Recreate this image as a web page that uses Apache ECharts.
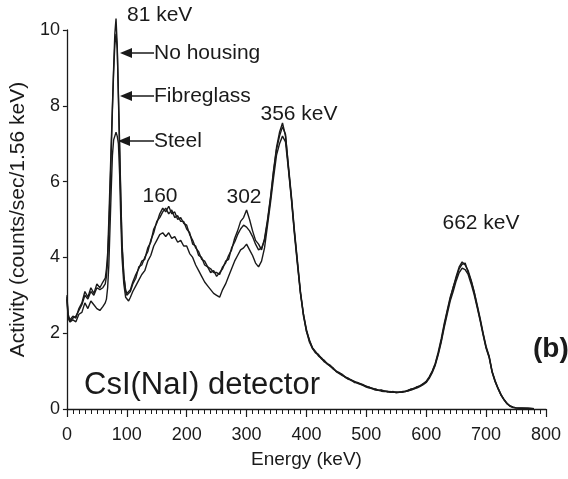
<!DOCTYPE html>
<html><head><meta charset="utf-8">
<script src="https://cdn.jsdelivr.net/npm/echarts@6/dist/echarts.min.js"></script>
<style>html,body{margin:0;padding:0;background:#fff}#c{width:568px;height:479px}</style>
</head><body><div id="c"></div>
<script>
// Energy channels (keV)
const energies = [
  0,2,5,10,15,20,25,30,35,40,45,50,55,60,
  62,64,66,68,70,72,74,76,78,80,82,84,86,88,90,92,
  95,98,100,103,106,
  110,115,120,125,130,135,140,145,150,155,160,165,170,175,180,185,190,195,200,205,
  210,215,220,225,230,235,240,245,250,255,260,265,270,275,280,285,290,295,300,305,
  310,315,320,325,330,335,340,345,350,355,360,365,370,375,380,385,390,395,400,
  405,410,415,420,425,430,435,440,445,450,455,460,465,470,475,480,485,490,495,500,
  505,510,515,520,525,530,535,540,545,550,555,560,565,570,575,580,585,590,595,600,
  605,610,615,620,625,630,635,640,645,650,655,660,665,670,675,680,685,690,695,700,
  705,710,715,720,725,730,735,740,745,750,
  760,770,780
];
const noHousing = [
  3.0,2.5,2.35,2.45,2.4,2.65,2.8,3.1,2.95,3.2,3.05,3.3,3.2,3.35,
  3.35,3.45,3.7,4.1,5.0,6.0,7.0,8.0,9.0,9.9,10.3,9.6,8.2,6.8,5.5,4.3,
  3.5,3.15,3.05,3.0,3.15,
  3.35,3.55,3.7,3.9,3.95,4.25,4.4,4.75,4.9,5.15,5.3,5.2,5.35,5.15,5.2,5.0,5.05,4.9,4.85,4.6,
  4.45,4.25,4.15,3.95,3.9,3.75,3.7,3.6,3.6,3.55,3.75,3.85,4.05,4.2,4.5,4.7,4.95,5.05,5.25,5.0,
  4.7,4.45,4.35,4.2,4.5,5.0,5.6,6.3,6.9,7.3,7.55,7.2,6.4,5.6,4.7,3.9,3.1,2.5,2.1,
  1.8,1.62,1.52,1.42,1.35,1.26,1.2,1.15,1.06,1.0,0.96,0.9,0.85,0.8,0.77,0.72,0.7,0.67,0.63,0.6,
  0.57,0.55,0.52,0.5,0.49,0.47,0.47,0.45,0.46,0.44,0.45,0.45,0.47,0.5,0.52,0.55,0.58,0.62,0.66,0.73,
  0.85,1.0,1.2,1.5,1.85,2.25,2.6,2.95,3.2,3.5,3.75,3.88,3.8,3.65,3.4,3.1,2.75,2.4,2.0,1.65,
  1.4,1.0,0.75,0.55,0.38,0.25,0.15,0.08,0.05,0.03,
  0.02,0.02,0.01
];
const fibreglass = [
  2.95,2.45,2.3,2.4,2.45,2.6,2.75,3.0,2.9,3.1,3.0,3.2,3.15,3.2,
  3.2,3.3,3.5,3.9,4.7,5.7,6.8,7.9,8.9,9.6,9.9,9.5,8.3,7.0,5.6,4.4,
  3.55,3.1,3.0,2.95,3.1,
  3.3,3.45,3.75,3.8,4.0,4.15,4.45,4.65,4.95,5.05,5.2,5.3,5.15,5.25,5.05,5.1,4.95,4.95,4.75,4.65,
  4.35,4.3,4.05,4.0,3.8,3.75,3.6,3.65,3.5,3.6,3.7,3.9,3.95,4.25,4.4,4.6,4.75,4.85,4.8,4.7,
  4.55,4.35,4.2,4.25,4.45,4.95,5.55,6.25,6.85,7.2,7.45,7.25,6.35,5.55,4.65,3.85,3.05,2.5,2.05,
  1.82,1.6,1.48,1.44,1.32,1.28,1.18,1.13,1.08,0.98,0.94,0.91,0.83,0.81,0.75,0.73,0.68,0.66,0.64,0.59,
  0.58,0.53,0.53,0.49,0.5,0.48,0.45,0.46,0.44,0.45,0.44,0.46,0.46,0.48,0.53,0.54,0.59,0.61,0.67,0.72,
  0.83,0.98,1.18,1.46,1.8,2.2,2.57,2.9,3.22,3.45,3.7,3.82,3.85,3.6,3.38,3.08,2.72,2.36,1.98,1.62,
  1.38,0.98,0.73,0.54,0.37,0.24,0.14,0.08,0.05,0.03,
  0.02,0.01,0.01
];
const steel = [
  2.9,2.4,2.3,2.35,2.3,2.5,2.55,2.8,2.65,2.85,2.75,2.65,2.6,2.7,
  2.75,2.8,2.9,3.2,3.8,4.8,5.8,6.7,7.1,7.2,7.3,7.2,7.0,6.2,5.0,4.0,
  3.3,2.95,2.9,2.85,2.95,
  3.1,3.25,3.4,3.55,3.65,3.9,4.05,4.3,4.45,4.6,4.65,4.55,4.65,4.5,4.55,4.4,4.45,4.3,4.3,4.1,
  4.0,3.8,3.65,3.5,3.35,3.25,3.15,3.05,3.0,2.95,3.15,3.3,3.5,3.7,3.9,4.05,4.2,4.25,4.35,4.2,
  4.05,3.85,3.75,3.9,4.25,4.85,5.45,6.1,6.7,7.0,7.2,7.05,6.3,5.5,4.6,3.8,3.05,2.45,2.05,
  1.76,1.6,1.5,1.4,1.33,1.24,1.19,1.12,1.05,0.99,0.93,0.88,0.84,0.78,0.76,0.7,0.69,0.65,0.62,0.58,
  0.55,0.54,0.5,0.49,0.47,0.46,0.46,0.44,0.45,0.43,0.44,0.44,0.46,0.48,0.5,0.53,0.56,0.6,0.64,0.7,
  0.81,0.96,1.15,1.43,1.76,2.15,2.5,2.85,3.1,3.38,3.6,3.72,3.68,3.55,3.3,3.02,2.68,2.33,1.95,1.6,
  1.36,0.97,0.72,0.53,0.36,0.24,0.14,0.07,0.04,0.03,
  0.02,0.02,0.01
];
const xMin = 0, xMax = 800, xStep = 100;
const yMin = 0, yMax = 10, yStep = 2;

const FONT = 'Liberation Sans';
const INK = '#1a1a1a';
const pair = arr => energies.map((e, i) => [e, arr[i]]);

const chart = echarts.init(document.getElementById('c'), null, {renderer: 'canvas'});
const lineSeries = (name, arr) => ({
  name, type: 'line', data: pair(arr), symbol: 'none', clip: false,
  lineStyle: {color: INK, width: 1.4}, itemStyle: {color: INK}, z: 3
});

function arrow(tipX, y, endX) {
  return [
    {type: 'polygon', shape: {points: [[tipX, y], [tipX + 12, y - 5], [tipX + 12, y + 5]]}, style: {fill: INK}},
    {type: 'line', shape: {x1: tipX + 11, y1: y, x2: endX, y2: y}, style: {stroke: INK, lineWidth: 1.5}}
  ];
}
const txt = (x, y, text, size, extra) => Object.assign({
  type: 'text', x, y,
  style: Object.assign({text, fill: INK, font: `${size}px "${FONT}"`, textVerticalAlign: 'middle'}, (extra || {}))
});

chart.setOption({
  animation: false,
  backgroundColor: '#fff',
  grid: {left: 65, right: 22, top: 30, bottom: 70, containLabel: false},
  xAxis: {
    type: 'value', min: xMin, max: xMax, interval: xStep,
    name: 'Energy (keV)', nameLocation: 'middle', nameGap: 41,
    nameTextStyle: {fontFamily: FONT, fontSize: 19, color: INK},
    axisLine: {show: true, lineStyle: {color: INK, width: 1.3}},
    axisTick: {show: true, length: 8, lineStyle: {color: INK, width: 1.2}},
    minorTick: {show: true, splitNumber: 10, length: 5, lineStyle: {color: INK, width: 1}},
    axisLabel: {fontFamily: FONT, fontSize: 18, color: INK, margin: 17},
    splitLine: {show: false}, minorSplitLine: {show: false}
  },
  yAxis: {
    type: 'value', min: yMin, max: yMax, interval: yStep,
    name: 'Activity (counts/sec/1.56 keV)', nameLocation: 'middle', nameGap: 36,
    nameTextStyle: {fontFamily: FONT, fontSize: 21, color: INK},
    axisLine: {show: true, lineStyle: {color: INK, width: 1.3}},
    axisTick: {show: true, length: 4, lineStyle: {color: INK, width: 1.2}},
    axisLabel: {fontFamily: FONT, fontSize: 18, color: INK, margin: 7},
    splitLine: {show: false}
  },
  series: [
    lineSeries('No housing', noHousing),
    lineSeries('Fibreglass', fibreglass),
    lineSeries('Steel', steel)
  ],
  graphic: [
    txt(127, 15, '81 keV', 21),
    ...arrow(120, 53, 154),
    txt(154, 53, 'No housing', 21),
    ...arrow(120, 96, 154),
    txt(154, 96, 'Fibreglass', 21),
    ...arrow(118, 141, 154),
    txt(154, 141, 'Steel', 21),
    txt(160, 196, '160', 21, {textAlign: 'center'}),
    txt(244, 197, '302', 21, {textAlign: 'center'}),
    txt(299, 114, '356 keV', 21, {textAlign: 'center'}),
    txt(481, 223, '662 keV', 21, {textAlign: 'center'}),
    txt(84, 385, 'CsI(NaI) detector', 31),
    txt(533, 349, '(b)', 28, {font: `bold 28px "${FONT}"`})
  ]
});
</script>
</body></html>
